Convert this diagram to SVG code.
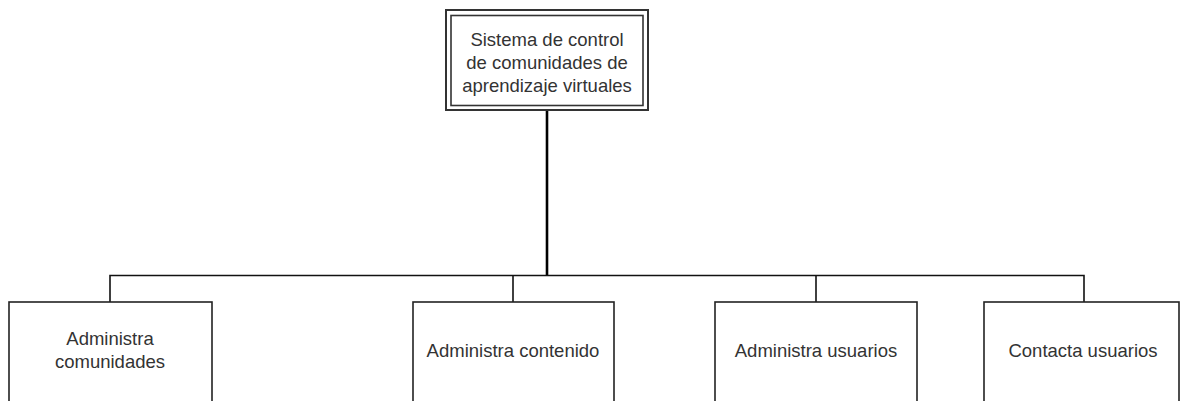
<svg xmlns="http://www.w3.org/2000/svg" width="1180" height="401" viewBox="0 0 1180 401">
<style>
.box{fill:#fff;stroke:#222;stroke-width:1.6}
.outer{fill:#fff;stroke:#333;stroke-width:2}
.inner{fill:none;stroke:#333;stroke-width:1.6}
.lbl{font-family:"Liberation Sans",Arial,sans-serif;font-size:18.5px;fill:#333;text-anchor:middle}
.conn{fill:none;stroke:#111;stroke-width:1.6}
.main{fill:none;stroke:#000;stroke-width:2.6}
</style>
<rect width="1180" height="401" fill="#fff"/>
<g id="connectors">
<path class="main" d="M547 110 V276"/>
<path class="conn" d="M110 302 V275.5 H1084 V302"/>
<path class="conn" d="M513 275.5 V302"/>
<path class="conn" d="M816 275.5 V302"/>
</g>
<g id="root">
<rect class="outer" x="446" y="10" width="202" height="100"/>
<rect class="inner" x="451" y="15.5" width="192" height="90"/>
<text class="lbl" x="547" y="46">Sistema de control</text>
<text class="lbl" x="547" y="69">de comunidades de</text>
<text class="lbl" x="547" y="92">aprendizaje virtuales</text>
</g>
<g id="n1">
<rect class="box" x="9" y="302" width="203" height="110"/>
<text class="lbl" x="110" y="345">Administra</text>
<text class="lbl" x="110" y="368">comunidades</text>
</g>
<g id="n2">
<rect class="box" x="413" y="302" width="201" height="110"/>
<text class="lbl" x="513" y="357">Administra contenido</text>
</g>
<g id="n3">
<rect class="box" x="715" y="302" width="202" height="110"/>
<text class="lbl" x="816" y="357">Administra usuarios</text>
</g>
<g id="n4">
<rect class="box" x="984" y="302" width="195" height="110"/>
<text class="lbl" x="1083" y="357">Contacta usuarios</text>
</g>
</svg>
